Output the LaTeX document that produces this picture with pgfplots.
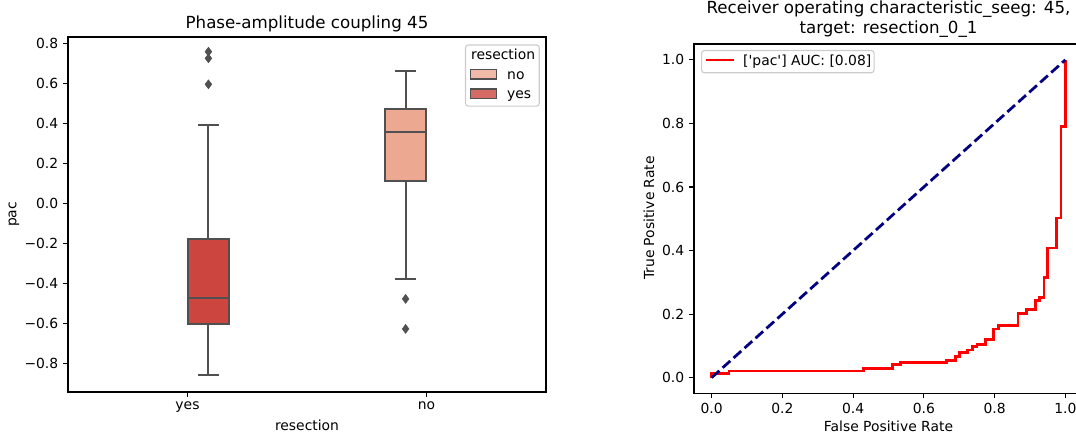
\documentclass[border=0pt]{standalone}
\usepackage{fontspec}
\setmainfont{DejaVu Sans}
% same face without TeX quote ligatures, for straight apostrophes
\newfontfamily\plainfont{DejaVu Sans}
\usepackage{pgfplots}
\pgfplotsset{compat=1.18}
\usepgfplotslibrary{statistics}

\definecolor{nocol}{RGB}{237,168,145}
\definecolor{yescol}{RGB}{204,69,63}
\definecolor{boxline}{RGB}{80,80,80}
\definecolor{legframe}{RGB}{204,204,204}
\definecolor{navyline}{RGB}{0,0,128}
\definecolor{rocred}{RGB}{255,0,0}

% ROC curve points (false positive rate, true positive rate)
\pgfplotstableread{
fpr    tpr
0.000  0.000
0.000  0.0136
0.049  0.0205
0.430  0.029
0.512  0.042
0.535  0.047
0.665  0.0535
0.690  0.066
0.701  0.079
0.724  0.087
0.737  0.098
0.750  0.103
0.774  0.121
0.797  0.153
0.810  0.165
0.866  0.2015
0.891  0.215
0.915  0.242
0.927  0.253
0.940  0.314
0.950  0.408
0.976  0.502
0.988  0.790
1.000  1.000
}\roctable

\pgfplotsset{
  mplstyle/.style={
    scale only axis,
    axis line style={line width=0.8pt, black},
    tick style={line width=0.8pt, black},
    major tick length=3.5pt,
    tick align=outside,
    tick pos=left,
    tick label style={font=\fontsize{10}{12}\selectfont},
    label style={font=\fontsize{10}{12}\selectfont},
    title style={font=\fontsize{12}{14.4}\selectfont, at={(0.5,1)}, anchor=south, inner sep=0pt, yshift=-2.4pt, align=center},
    /pgf/number format/assume math mode=true,
    legend style={font=\fontsize{10}{12}\selectfont, draw=legframe, rounded corners=2pt,
      fill=white, fill opacity=0.8, text opacity=1, line width=0.8pt,
      inner xsep=3pt, inner ysep=3pt,
      nodes={inner sep=0pt, text height=7.5pt, text depth=2.5pt, anchor=base west},
      row sep=4pt,
      /tikz/every odd column/.append style={column sep=7pt}},
    legend cell align=left,
  },
  noleg/.style={legend image code/.code={\draw[sharp corners, fill=nocol, draw=boxline, line width=1pt] (0pt,0pt) rectangle (19pt,6.7pt);}},
  yesleg/.style={legend image code/.code={\draw[sharp corners, fill=yescol, draw=boxline, line width=1pt] (0pt,0pt) rectangle (19pt,6.7pt);}},
  rocleg/.style={legend image code/.code={\draw[rocred, line width=2pt] (0pt,3.6pt) -- (20pt,3.6pt);}},
}

\begin{document}
\begin{tikzpicture}
% ---------- left: box plot ----------
\begin{axis}[mplstyle,
  at={(48.96pt,30.24pt)}, anchor=south west,
  width=344.16pt, height=255.6pt,
  xmin=-0.5, xmax=1.5, ymin=-0.9435, ymax=0.8315,
  xtick={0,1}, xticklabels={yes,no},
  ytick={-0.8,-0.6,-0.4,-0.2,0,0.2,0.4,0.6,0.8},
  yticklabels={−0.8,−0.6,−0.4,−0.2,0.0,0.2,0.4,0.6,0.8},
  title={Phase-amplitude coupling 45},
  xlabel={resection}, ylabel={pac},
  xlabel style={at={(axis description cs:0.5,-0.093)}, anchor=center},
  ylabel style={at={(axis description cs:-0.113,0.5)}, anchor=center, rotate=0},
  legend style={at={(0.987,0.979)}, anchor=north east},
]
\addlegendimage{empty legend}
\addlegendentry{\hspace*{-26pt}resection}
\addlegendimage{noleg}
\addlegendentry{no}
\addlegendimage{yesleg}
\addlegendentry{yes}

% resection = yes
\addplot[forget plot, boxplot/draw direction=y,
  boxplot prepared={draw position=0.0875,
    lower whisker=-0.860, lower quartile=-0.6035, median=-0.475,
    upper quartile=-0.180, upper whisker=0.390,
    box extend=0.17, whisker extend=0.085},
  fill=yescol, draw=boxline, line width=1.5pt, solid,
  mark=diamond*, mark size=3.2pt,
  mark options={solid, fill=boxline, draw=boxline, line width=0.4pt}]
  table[row sep=\\, y index=0] {y\\0.758\\0.725\\0.595\\};

% resection = no
\addplot[forget plot, boxplot/draw direction=y,
  boxplot prepared={draw position=0.9125,
    lower whisker=-0.378, lower quartile=0.111, median=0.357,
    upper quartile=0.473, upper whisker=0.660,
    box extend=0.17, whisker extend=0.085},
  fill=nocol, draw=boxline, line width=1.5pt, solid,
  mark=diamond*, mark size=3.2pt,
  mark options={solid, fill=boxline, draw=boxline, line width=0.4pt}]
  table[row sep=\\, y index=0] {y\\-0.478\\-0.628\\};
\end{axis}

% ---------- right: ROC curve ----------
\begin{axis}[mplstyle,
  at={(499.68pt,29.16pt)}, anchor=south west,
  width=280.08pt, height=251.64pt,
  xmin=-0.05, xmax=1.05, ymin=-0.05, ymax=1.05,
  xtick={0,0.2,0.4,0.6,0.8,1.0}, ytick={0,0.2,0.4,0.6,0.8,1.0},
  /pgf/number format/.cd, fixed, fixed zerofill, precision=1, /pgfplots/.cd,
  title={Receiver operating characteristic\_seeg: 45,\\target: resection\_0\_1},
  title style={yshift=0.8pt},
  xlabel={False Positive Rate}, ylabel={True Positive Rate},
  xlabel style={at={(axis description cs:0.5,-0.095)}, anchor=center},
  ylabel style={at={(axis description cs:-0.116,0.502)}, anchor=center, rotate=0},
  legend style={at={(0.018,0.983)}, anchor=north west, inner xsep=2pt,
    /tikz/every odd column/.append style={column sep=6pt}},
]
\addplot[const plot, rocred, line width=2pt, rocleg]
  table[x=fpr, y=tpr] {\roctable};
\addlegendentry{{\plainfont ['pac'] AUC: [0.08]}}
\addplot[forget plot, navyline, line width=2pt, dash pattern=on 7.4pt off 3.2pt]
  coordinates {(0,0) (1,1)};
\end{axis}

\pgfresetboundingbox
\useasboundingbox (0,0) rectangle (774.72pt,312.48pt);
\end{tikzpicture}
\end{document}
